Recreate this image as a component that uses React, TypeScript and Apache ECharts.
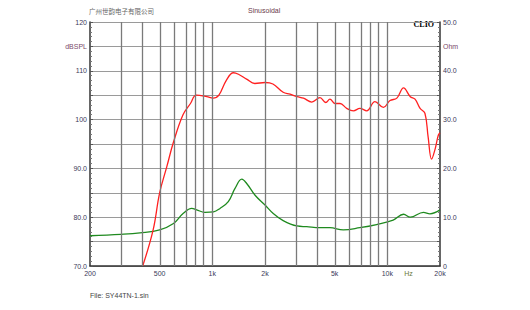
import React, { useEffect, useRef } from "react";
import * as echarts from "echarts";

const splFreq = [400, 459, 500, 549, 600, 680, 750, 810, 930, 1010, 1090, 1200, 1320, 1410, 1570, 1750, 2000, 2220, 2540, 2780, 3050, 3320, 3700, 4120, 4450, 4700, 5020, 5370, 5860, 6400, 6970, 7620, 8500, 9500, 10360, 11340, 12380, 13530, 14400, 15390, 16400, 17100, 17900, 18700, 19560, 20000];
const splValues = [70, 77.4, 85, 90.3, 95.4, 101, 103.3, 105, 104.7, 104.4, 105, 108, 109.6, 109.3, 108.3, 107.4, 107.6, 107.3, 105.6, 105.2, 104.7, 104.4, 103.6, 104.5, 103.5, 104.2, 103.3, 103.3, 102.3, 101.8, 102.3, 101.8, 103.7, 102.5, 103.9, 104.4, 106.5, 104.7, 104.2, 102.3, 101.3, 96.5, 91.9, 93.8, 96.8, 97.3];

const impFreq = [200, 300, 386, 500, 600, 683, 763, 814, 907, 1015, 1106, 1234, 1348, 1474, 1572, 1755, 2000, 2222, 2540, 3046, 3460, 4120, 4700, 5600, 6970, 8680, 10800, 12380, 13530, 16080, 17520, 20000];
const impValues = [6.2, 6.5, 6.8, 7.4, 8.7, 10.8, 11.8, 11.5, 11.0, 11.1, 11.8, 13.2, 15.9, 17.8, 16.9, 14.5, 12.5, 10.8, 9.3, 8.2, 8.05, 7.85, 7.85, 7.4, 7.85, 8.5, 9.4, 10.6, 10.0, 11.0, 10.7, 11.5];

const gridFreqs = [300, 400, 500, 600, 700, 800, 900, 1000, 2000, 3000, 4000, 5000, 6000, 7000, 8000, 9000, 10000];
const xLabelFreqs = [200, 500, 1000, 2000, 5000, 10000, 13200, 20000];
const xLabelTexts = ["200", "500", "1k", "2k", "5k", "10k", "Hz", "20k"];

const FONT = "'Liberation Sans', Arial, sans-serif";
const LABEL_COLOR = "#3a3a5a";

export default function App() {
  const ref = useRef<HTMLDivElement>(null);
  useEffect(() => {
    const chart = echarts.init(ref.current!, null, { renderer: "svg" });
    const lg = (f: number) => Math.log10(f);
    const xLabelVals = xLabelFreqs.map(lg);
    const option: any = {
      animation: false,
      backgroundColor: "#ffffff",
      textStyle: { fontFamily: FONT },
      grid: { left: 90, top: 22, width: 350, height: 244 },
      graphic: [
        { type: "text", left: 89, top: 8, style: { text: "广州世韵电子有限公司", font: "6.5px 'Noto Sans CJK SC', sans-serif", fill: "#666666" } },
        { type: "text", left: 248, top: 7, style: { text: "Sinusoidal", font: `7px ${FONT}`, fill: "#6a3a4a" } },
        { type: "text", right: 96, top: 20, style: { text: "CLIO", font: "bold 8px 'Liberation Serif', serif", fill: "#000000" } },
        { type: "text", left: 90, top: 292, style: { text: "File: SY44TN-1.sin", font: `7px ${FONT}`, fill: "#444444" } },
      ],
      xAxis: {
        type: "value",
        min: lg(200),
        max: lg(20000),
        axisLine: { show: true, onZero: false, lineStyle: { color: "#333333", width: 1.5 } },
        axisTick: { show: false },
        splitLine: { show: false },
        axisLabel: {
          customValues: xLabelVals,
          fontSize: 7,
          fontFamily: FONT,
          color: LABEL_COLOR,
          margin: 4,
          showMinLabel: true,
          showMaxLabel: true,
          formatter: (v: number) => {
            let best = 0;
            let bd = Infinity;
            xLabelVals.forEach((x, i) => {
              const d = Math.abs(x - v);
              if (d < bd) { bd = d; best = i; }
            });
            const t = xLabelTexts[best];
            return t === "Hz" ? "{hz|Hz}" : t;
          },
          rich: { hz: { color: "#6a7a3a", fontSize: 7, fontFamily: FONT } },
        },
      },
      yAxis: [
        {
          type: "value",
          min: 70,
          max: 120,
          interval: 5,
          position: "left",
          axisLine: { show: true, lineStyle: { color: "#333333", width: 1.5 } },
          axisTick: { show: true, inside: true, length: 3, lineStyle: { color: "#555555" } },
          minorTick: { show: true, splitNumber: 5, length: 2, lineStyle: { color: "#777777" } },
          splitLine: { show: true, lineStyle: { color: "#9a9a9a", width: 1.2 } },
          axisLabel: {
            fontSize: 7,
            fontFamily: FONT,
            color: LABEL_COLOR,
            margin: 3,
            showMinLabel: true,
            showMaxLabel: true,
            formatter: (v: number) => {
              const r = Math.round(v);
              if (r === 115) return "{u|dBSPL}";
              if (r % 10 !== 0) return "";
              return r >= 100 ? String(r) : r.toFixed(1);
            },
            rich: { u: { color: "#7a4a6a", fontSize: 7, fontFamily: FONT } },
          },
        },
        {
          type: "value",
          min: 0,
          max: 50,
          interval: 5,
          position: "right",
          axisLine: { show: true, lineStyle: { color: "#333333", width: 1.5 } },
          axisTick: { show: true, inside: true, length: 3, lineStyle: { color: "#555555" } },
          minorTick: { show: true, splitNumber: 5, length: 2, lineStyle: { color: "#777777" } },
          splitLine: { show: false },
          axisLabel: {
            fontSize: 7,
            fontFamily: FONT,
            color: LABEL_COLOR,
            margin: 3,
            showMinLabel: true,
            showMaxLabel: true,
            formatter: (v: number) => {
              const r = Math.round(v);
              if (r === 45) return "{u|Ohm}";
              if (r === 0) return "0";
              if (r % 10 !== 0) return "";
              return r.toFixed(1);
            },
            rich: { u: { color: "#7a4a6a", fontSize: 7, fontFamily: FONT } },
          },
        },
      ],
      series: [
        {
          type: "line",
          yAxisIndex: 0,
          data: [],
          silent: true,
          markLine: {
            silent: true,
            symbol: "none",
            label: { show: false },
            lineStyle: { color: "#7a7a7a", width: 1.3, type: "solid" },
            data: gridFreqs.map((f) => ({ xAxis: lg(f) })),
          },
        },
        {
          type: "line",
          yAxisIndex: 1,
          data: impFreq.map((f, i) => [lg(f), impValues[i]]),
          smooth: 0.4,
          showSymbol: false,
          clip: true,
          lineStyle: { color: "#1f8a1f", width: 1.3 },
        },
        {
          type: "line",
          yAxisIndex: 0,
          data: splFreq.map((f, i) => [lg(f), splValues[i]]),
          smooth: 0.4,
          showSymbol: false,
          clip: true,
          lineStyle: { color: "#ff2020", width: 1.3 },
        },
      ],
    };
    chart.setOption(option);
    return () => chart.dispose();
  }, []);
  return <div ref={ref} style={{ position: "fixed", left: 0, top: 0, width: 530, height: 310 }} />;
}
